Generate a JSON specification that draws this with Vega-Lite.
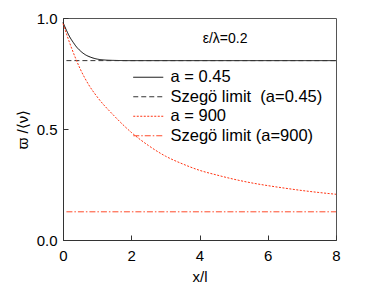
{
  "$schema": "https://vega.github.io/schema/vega-lite/v6.json",
  "width": 273,
  "height": 222,
  "autosize": {"type": "none"},
  "padding": {"left": 63, "top": 18, "right": 38, "bottom": 50},
  "config": {
    "font": "Liberation Sans",
    "view": {"stroke": "#555555", "strokeWidth": 1},
    "axis": {"grid": false, "domainColor": "#333333", "tickColor": "#333333", "labelColor": "#000000", "titleColor": "#000000", "labelFontSize": 15, "titleFontSize": 15, "titleFontWeight": "normal", "tickSize": -5, "labelFlush": false}
  },
  "layer": [
    {
      "data": {"values": [
        {"x": 0, "y": 0.98, "series": "a = 0.45"},
        {"x": 0.1, "y": 0.945, "series": "a = 0.45"},
        {"x": 0.2, "y": 0.914, "series": "a = 0.45"},
        {"x": 0.3, "y": 0.89, "series": "a = 0.45"},
        {"x": 0.4, "y": 0.869, "series": "a = 0.45"},
        {"x": 0.5, "y": 0.853, "series": "a = 0.45"},
        {"x": 0.65, "y": 0.835, "series": "a = 0.45"},
        {"x": 0.8, "y": 0.824, "series": "a = 0.45"},
        {"x": 1.0, "y": 0.815, "series": "a = 0.45"},
        {"x": 1.2, "y": 0.811, "series": "a = 0.45"},
        {"x": 1.5, "y": 0.809, "series": "a = 0.45"},
        {"x": 2.0, "y": 0.808, "series": "a = 0.45"},
        {"x": 8.0, "y": 0.808, "series": "a = 0.45"},
        {"x": 0.1, "y": 0.808, "series": "Szegö limit \u00a0(a=0.45)"},
        {"x": 8.0, "y": 0.808, "series": "Szegö limit \u00a0(a=0.45)"},
        {"x": 0, "y": 0.975, "series": "a = 900"},
        {"x": 0.25, "y": 0.865, "series": "a = 900"},
        {"x": 0.5, "y": 0.772, "series": "a = 900"},
        {"x": 0.75, "y": 0.70, "series": "a = 900"},
        {"x": 1.0, "y": 0.645, "series": "a = 900"},
        {"x": 1.5, "y": 0.559, "series": "a = 900"},
        {"x": 2.0, "y": 0.485, "series": "a = 900"},
        {"x": 2.5, "y": 0.426, "series": "a = 900"},
        {"x": 3.0, "y": 0.378, "series": "a = 900"},
        {"x": 3.5, "y": 0.343, "series": "a = 900"},
        {"x": 4.0, "y": 0.314, "series": "a = 900"},
        {"x": 4.5, "y": 0.293, "series": "a = 900"},
        {"x": 5.0, "y": 0.274, "series": "a = 900"},
        {"x": 5.5, "y": 0.258, "series": "a = 900"},
        {"x": 6.0, "y": 0.245, "series": "a = 900"},
        {"x": 6.5, "y": 0.2335, "series": "a = 900"},
        {"x": 7.0, "y": 0.223, "series": "a = 900"},
        {"x": 7.5, "y": 0.214, "series": "a = 900"},
        {"x": 8.0, "y": 0.206, "series": "a = 900"},
        {"x": 0.1, "y": 0.127, "series": "Szegö limit (a=900)"},
        {"x": 8.0, "y": 0.127, "series": "Szegö limit (a=900)"}
      ]},
      "mark": {"type": "line", "strokeWidth": 1, "interpolate": "monotone"},
      "encoding": {
        "x": {"field": "x", "type": "quantitative", "scale": {"domain": [0, 8], "nice": false},
              "axis": {"values": [0, 2, 4, 6, 8], "title": "x/l", "labelPadding": 13, "titlePadding": 6}},
        "y": {"field": "y", "type": "quantitative", "scale": {"domain": [0, 1], "nice": false},
              "axis": {"values": [0, 0.5, 1], "format": ".1f", "title": "ϖ /⟨ν⟩", "labelPadding": 11, "titlePadding": 6}},
        "color": {"field": "series", "type": "nominal",
          "scale": {"domain": ["a = 0.45", "Szegö limit \u00a0(a=0.45)", "a = 900", "Szegö limit (a=900)"], "range": ["#000000", "#333333", "#ff3311", "#ff4a2a"]},
          "legend": {"orient": "none", "legendX": 77, "legendY": 51, "title": null, "padding": 0,
            "labelFontSize": 16.5, "labelOffset": 14, "symbolType": "M-3,0H3", "symbolSize": 100, "symbolStrokeWidth": 1, "rowPadding": 2.5, "labelColor": "#000000"}},
        "strokeDash": {"field": "series", "type": "nominal",
          "scale": {"domain": ["a = 0.45", "Szegö limit \u00a0(a=0.45)", "a = 900", "Szegö limit (a=900)"], "range": [[1, 0], [5, 3], [2, 1.5], [6, 2, 1.5, 2]]},
          "legend": null}
      }
    },
    {
      "data": {"values": [{"x": 4.75, "y": 0.887, "label": "ε/λ=0.2"}]},
      "mark": {"type": "text", "fontSize": 14, "align": "center", "baseline": "alphabetic"},
      "encoding": {
        "x": {"field": "x", "type": "quantitative"},
        "y": {"field": "y", "type": "quantitative"},
        "text": {"field": "label"}
      }
    }
  ]
}
